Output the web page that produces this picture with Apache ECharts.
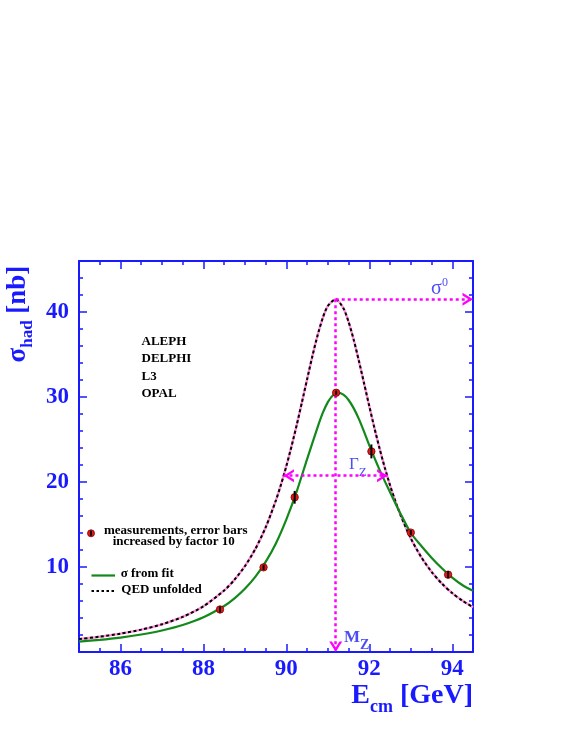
<!DOCTYPE html>
<html>
<head>
<meta charset="utf-8">
<script src="https://cdn.jsdelivr.net/npm/echarts@6/dist/echarts.min.js"></script>
<style>
html,body{margin:0;padding:0;background:#fff;}
#chart{width:568px;height:734px;}
</style>
</head>
<body>
<div id="chart"></div>
<script>
// ---- data ----
const qedE = [85, 85.5, 86, 86.5, 87, 87.5, 88, 88.5, 88.75, 89, 89.25, 89.5, 89.75, 89.875, 90, 90.125, 90.25, 90.375, 90.5, 90.625, 90.75, 90.875, 91, 91.19, 91.375, 91.5, 91.625, 91.75, 91.875, 92, 92.125, 92.25, 92.375, 92.5, 92.625, 92.75, 93, 93.25, 93.5, 93.75, 94, 94.25, 94.5];
const qedV = [1.52, 1.80, 2.16, 2.63, 3.26, 4.13, 5.38, 7.24, 8.51, 10.1, 12.1, 14.65, 17.87, 19.77, 21.89, 24.21, 26.72, 29.37, 32.09, 34.76, 37.21, 39.26, 40.72, 41.5, 40.45, 38.84, 36.71, 34.22, 31.57, 28.91, 26.32, 23.89, 21.65, 19.61, 17.78, 16.14, 13.37, 11.18, 9.44, 8.05, 6.93, 6.02, 5.27];

const fitE = [85, 85.5, 86, 86.5, 87, 87.5, 88, 88.5, 88.75, 89, 89.25, 89.5, 89.75, 90, 90.25, 90.5, 90.75, 90.875, 91, 91.125, 91.25, 91.375, 91.5, 91.625, 91.75, 91.875, 92, 92.25, 92.5, 92.75, 93, 93.25, 93.5, 93.75, 94, 94.25, 94.5];
const fitV = [1.22, 1.43, 1.70, 2.06, 2.53, 3.17, 4.08, 5.41, 6.31, 7.43, 8.83, 10.6, 12.8, 15.6, 18.9, 22.7, 26.4, 28.1, 29.4, 30.2, 30.5, 30.28, 29.65, 28.66, 27.4, 25.9, 24.3, 21.4, 18.8, 16.3, 14.0, 12.5, 11.1, 9.85, 8.75, 7.85, 7.2];

const measE = [88.4, 89.45, 90.2, 91.2, 92.05, 93.0, 93.9];
const measV = [5.0, 9.96, 18.2, 30.5, 23.6, 14.05, 9.1];
const measErr = [0.35, 0.3, 0.75, 0.25, 0.82, 0.3, 0.42];

const mZ = 91.19;
const sigma0 = 41.5;
const gammaEnds = [89.93, 92.44];
const halfMax = 20.75;

const xTickLabels = [86, 88, 90, 92, 94];
const yTickLabels = [10, 20, 30, 40];
const experiments = ['ALEPH', 'DELPHI', 'L3', 'OPAL'];

// ---- styling ----
const BLUE = '#1a1aff';
const SERIF = '"Liberation Serif", "DejaVu Serif", serif';
const MAG = '#ff00ff';
const GREEN = '#12891a';
const ANN = '#2020f4';
const chevron = 'path://M0,10 L5,0 L10,10 L7.9,10 L5,4.2 L2.1,10 Z';

function pairs(xs, ys) { return xs.map((x, i) => [x, ys[i]]); }

function xAxes(pos, labels) {
  return [
    { type: 'value', position: pos, min: 85, max: 94.5, interval: 0.5,
      axisLine: { onZero: false, lineStyle: { color: BLUE, width: 2 } },
      axisTick: { inside: true, length: 4, lineStyle: { color: BLUE, width: 1.5 } },
      axisLabel: { show: false }, splitLine: { show: false } },
    { type: 'value', position: pos, min: 85, max: 94.5,
      axisLine: { show: false, onZero: false },
      axisTick: { inside: true, length: 8, customValues: xTickLabels, lineStyle: { color: BLUE, width: 1.5 } },
      axisLabel: labels ? { show: true, customValues: xTickLabels, margin: 6, color: BLUE,
        fontFamily: SERIF, fontWeight: 'bold', fontSize: 23 } : { show: false },
      splitLine: { show: false } }
  ];
}
function yAxes(pos, labels) {
  return [
    { type: 'value', position: pos, min: 0, max: 46, interval: 2,
      axisLine: { onZero: false, lineStyle: { color: BLUE, width: 2 } },
      axisTick: { inside: true, length: 4, lineStyle: { color: BLUE, width: 1.5 } },
      axisLabel: { show: false }, splitLine: { show: false } },
    { type: 'value', position: pos, min: 0, max: 46,
      axisLine: { show: false, onZero: false },
      axisTick: { inside: true, length: 8, customValues: yTickLabels, lineStyle: { color: BLUE, width: 1.5 } },
      axisLabel: labels ? { show: true, customValues: yTickLabels, margin: 10, color: BLUE,
        fontFamily: SERIF, fontWeight: 'bold', fontSize: 23 } : { show: false },
      splitLine: { show: false } }
  ];
}

const arrowEnd = { symbol: chevron, symbolSize: [13, 10.5], symbolOffset: [0, '50%'] };

const txt = (text, x, y, size) => ({
  type: 'text', x: x, y: y,
  style: { text: text, fill: '#000', font: 'bold ' + (size || 13) + 'px ' + SERIF, align: 'left', verticalAlign: 'middle' }
});

const graphics = [
  // y-axis title
  { type: 'text', x: 4.5, y: 362.5, rotation: Math.PI / 2,
    style: { text: '{m|σ}{s|had}{m| [nb]}', align: 'left', verticalAlign: 'top', fill: BLUE,
      rich: {
        m: { fontFamily: SERIF, fontWeight: 'bold', fontSize: 27, lineHeight: 27, verticalAlign: 'top', fill: BLUE },
        s: { fontFamily: SERIF, fontWeight: 'bold', fontSize: 17, lineHeight: 46, verticalAlign: 'middle', fill: BLUE }
      } } },
  // x-axis title
  { type: 'text', x: 473, y: 681.5,
    style: { text: '{m|E}{s|cm}{m| [GeV]}', align: 'right', verticalAlign: 'top', fill: BLUE,
      rich: {
        m: { fontFamily: SERIF, fontWeight: 'bold', fontSize: 28, lineHeight: 28, verticalAlign: 'top', fill: BLUE },
        s: { fontFamily: SERIF, fontWeight: 'bold', fontSize: 18, lineHeight: 51, verticalAlign: 'middle', fill: BLUE }
      } } },
  // legend
  { type: 'circle', shape: { cx: 91, cy: 533.3, r: 3.5 }, style: { fill: '#e3191b', stroke: '#7a0000', lineWidth: 0.8 } },
  { type: 'line', shape: { x1: 91, y1: 530.8, x2: 91, y2: 535.8 }, style: { stroke: '#000', lineWidth: 1.8 } },
  txt('measurements, error bars', 104, 530.6),
  txt('increased by factor 10', 112.7, 542.1),
  { type: 'line', shape: { x1: 91.5, y1: 575.5, x2: 115, y2: 575.5 }, style: { stroke: GREEN, lineWidth: 2.2 } },
  txt('σ from fit', 120.7, 573.6),
  { type: 'line', shape: { x1: 91.5, y1: 591, x2: 115, y2: 591 }, style: { stroke: '#000', lineWidth: 2, lineDash: [2.5, 2.5] } },
  txt('QED unfolded', 121.3, 589.9)
];
experiments.forEach((name, i) => graphics.push(txt(name, 141.5, 341.6 + i * 17.45)));

const option = {
  animation: false,
  backgroundColor: '#fff',
  grid: { left: 79, top: 261, width: 394, height: 391, containLabel: false, outerBoundsMode: 'none' },
  xAxis: [...xAxes('bottom', true), ...xAxes('top', false)],
  yAxis: [...yAxes('left', true), ...yAxes('right', false)],
  series: [
    { name: 'QED unfolded (under)', type: 'line', data: pairs(qedE, qedV), showSymbol: false, smooth: 0.25,
      lineStyle: { color: '#ff8fd8', width: 2.4 }, z: 2, silent: true },
    { name: 'QED unfolded', type: 'line', data: pairs(qedE, qedV), showSymbol: false, smooth: 0.25,
      lineStyle: { color: '#000', width: 2, type: [3, 2.5] }, z: 2, silent: true },
    { name: 'σ from fit', type: 'line', data: pairs(fitE, fitV), showSymbol: false, smooth: 0.25,
      lineStyle: { color: GREEN, width: 2.2 }, z: 3, silent: true },
    { name: 'annotations', type: 'scatter', z: 4, silent: true, symbolSize: 1,
      itemStyle: { color: 'transparent' },
      data: [
        { value: [93.49, 44.08], label: { show: true, position: 'inside', align: 'left', verticalAlign: 'top',
            formatter: '{s|σ}{p|0}',
            rich: { s: { fontFamily: SERIF, fontSize: 20, lineHeight: 22, verticalAlign: 'middle', color: ANN },
                    p: { fontFamily: SERIF, fontSize: 12, lineHeight: 12, verticalAlign: 'top', color: ANN } } } },
        { value: [91.51, 23.06], label: { show: true, position: 'inside', align: 'left', verticalAlign: 'top',
            formatter: '{g|Γ}{z|Z}',
            rich: { g: { fontFamily: SERIF, fontSize: 17, lineHeight: 17, verticalAlign: 'top', color: ANN },
                    z: { fontFamily: SERIF, fontSize: 13, lineHeight: 33, verticalAlign: 'middle', color: ANN } } } },
        { value: [91.39, 2.71], label: { show: true, position: 'inside', align: 'left', verticalAlign: 'top',
            formatter: '{m|M}{z|Z}',
            rich: { m: { fontFamily: SERIF, fontWeight: 'bold', fontSize: 17, lineHeight: 17, verticalAlign: 'top', color: ANN },
                    z: { fontFamily: SERIF, fontWeight: 'bold', fontSize: 14, lineHeight: 32, verticalAlign: 'middle', color: ANN } } } }
      ],
      markLine: {
        silent: true, animation: false,
        lineStyle: { color: MAG, width: 2.5, type: [3, 3] },
        itemStyle: { color: MAG },
        label: { show: false },
        data: [
          [{ coord: [mZ, sigma0], symbol: 'none' }, Object.assign({ coord: [mZ, 0] }, arrowEnd)],
          [{ coord: [mZ, sigma0], symbol: 'none' }, Object.assign({ coord: [94.5, sigma0] }, arrowEnd)],
          [Object.assign({ coord: [gammaEnds[0], halfMax] }, arrowEnd), Object.assign({ coord: [gammaEnds[1], halfMax] }, arrowEnd)]
        ]
      } },
    { name: 'measurements', type: 'custom', z: 5, silent: true,
      data: measE.map((e, i) => [e, measV[i], measErr[i]]),
      encode: { x: 0, y: 1 },
      renderItem: function (params, api) {
        const x = api.value(0), y = api.value(1), err = api.value(2);
        const c = api.coord([x, y]);
        const top = api.coord([x, y + err]);
        const bot = api.coord([x, y - err]);
        return { type: 'group', children: [
          { type: 'circle', shape: { cx: c[0], cy: c[1], r: 3.7 }, style: { fill: '#e3191b', stroke: '#7a0000', lineWidth: 0.8 } },
          { type: 'line', shape: { x1: c[0], y1: Math.min(top[1], c[1] - 1), x2: c[0], y2: Math.max(bot[1], c[1] + 1) }, style: { stroke: '#000', lineWidth: 2 } }
        ] };
      } }
  ],
  graphic: graphics
};

const chart = echarts.init(document.getElementById('chart'), null, { renderer: 'canvas' });
chart.setOption(option);
</script>
</body>
</html>
